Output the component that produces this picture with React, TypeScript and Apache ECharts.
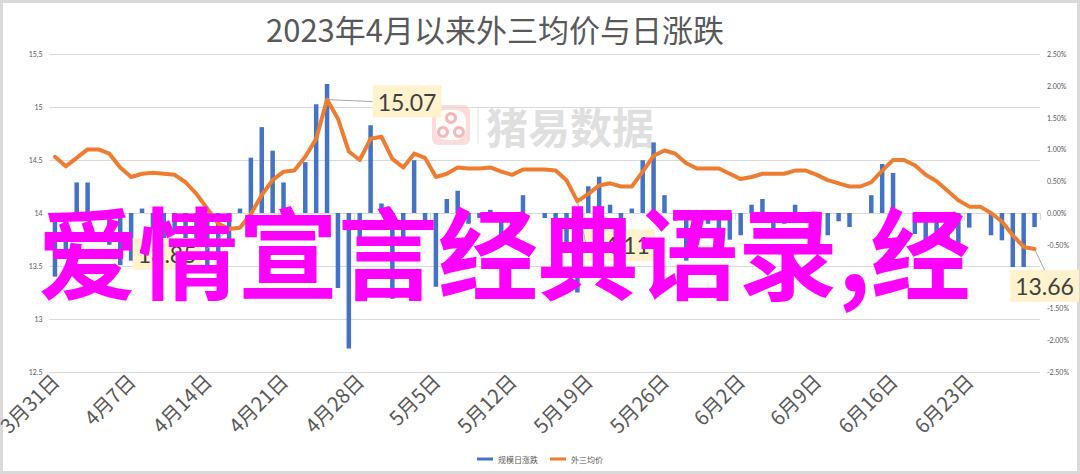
import React, { useEffect, useRef } from "react";
import * as echarts from "echarts";

// ---- data ----
const startDate = [2023, 3, 31];
const dayCount = 91;
const categories: string[] = (() => {
  const out: string[] = [];
  const d0 = new Date(startDate[0], startDate[1] - 1, startDate[2]);
  for (let i = 0; i < dayCount; i++) {
    const d = new Date(d0.getTime() + i * 86400000);
    out.push(`${d.getMonth() + 1}月${d.getDate()}日`);
  }
  return out;
})();

// 外三均价 (元/kg)
const priceValues = [
  14.53, 14.44, 14.52, 14.6, 14.6, 14.56, 14.43, 14.34, 14.37, 14.38,
  14.37, 14.36, 14.29, 14.18, 14.04, 13.9, 13.85, 13.86, 13.99, 14.17,
  14.31, 14.39, 14.4, 14.53, 14.7, 15.07, 14.89, 14.58, 14.5, 14.7,
  14.72, 14.51, 14.43, 14.56, 14.52, 14.34, 14.37, 14.43, 14.42, 14.42,
  14.43, 14.39, 14.36, 14.41, 14.41, 14.41, 14.4, 14.31, 14.11, 14.18,
  14.26, 14.28, 14.25, 14.25, 14.39, 14.54, 14.59, 14.56, 14.47, 14.42,
  14.42, 14.42, 14.37, 14.32, 14.34, 14.37, 14.37, 14.37, 14.4, 14.4,
  14.36, 14.31, 14.28, 14.25, 14.25, 14.29, 14.4, 14.5, 14.5, 14.45,
  14.36, 14.3, 14.21, 14.12, 14.06, 14.06, 14.0, 13.92, 13.79, 13.68,
  13.66,
];

// 规模日涨跌 (%)
const changeValues = [
  -1.0, -0.58, 0.48, 0.48, 0, -0.5, -0.82, -0.75, 0.07, -0.25,
  -0.5, -0.33, -0.67, -0.58, -0.93, -0.67, -0.5, 0.07, 0.87, 1.35,
  0.98, 0.48, 0, 0.8, 1.71, 2.03, -1.18, -2.13, -0.48, 1.38,
  0.15, -1.35, -0.5, 0.83, -0.17, -1.16, 0.22, 0.35, -0.17, -0.08,
  0.05, -0.43, -0.33, 0.28, 0, -0.08, -0.62, -0.58, -1.25, 0.42,
  0.57, 0.13, -0.17, 0.07, 0.83, 1.11, 0.28, -0.12, -0.75, -0.5,
  -0.17, -0.25, -0.42, -0.35, 0.13, 0.22, -0.33, -0.17, 0.13, -0.07,
  -0.33, -0.35, -0.13, -0.22, 0, 0.28, 0.77, 0.63, 0, -0.33,
  -0.5, -0.42, -0.55, -0.63, -0.23, 0, -0.35, -0.43, -0.85, -0.85,
  -0.22,
];

const leftTicks = { min: 12.5, max: 15.5, interval: 0.5 };
const rightTicks = { min: -2.5, max: 2.5, interval: 0.5 };

// indices of labelled price points and their callout offsets
const calloutIndex = [16, 25, 48, 90];
const calloutOffset: Record<number, [number, number]> = {
  16: [-62, 25],
  25: [80, 2],
  48: [43, 44],
  90: [10, 37],
};

const titleText = "2023年4月以来外三均价与日涨跌";
const seriesNames = ["规模日涨跌", "外三均价"];
const watermarkText = "猪易数据";
const overlayText = "爱情宣言经典语录,经";

const CJK = '"Noto Sans CJK SC", "Noto Sans", sans-serif';

export default function App() {
  const ref = useRef<HTMLDivElement>(null);
  useEffect(() => {
    document.body.style.margin = "0";
    const chart = echarts.init(ref.current!, null, { renderer: "svg" });
    const priceData = priceValues.map((v, i) =>
      calloutIndex.includes(i)
        ? {
            value: v,
            label: {
              show: true,
              position: "inside",
              formatter: (p: any) => Number(p.value).toFixed(2),
              fontSize: 23,
              color: "#404040",
              fontFamily: "Lato, sans-serif",
              backgroundColor: "#FFF2CC",
              padding: [5, 5, 4, 5],
            },
          }
        : v
    );
    chart.setOption({
      animation: false,
      backgroundColor: "#ffffff",
      textStyle: { fontFamily: CJK },
      title: {
        text: titleText,
        left: 261,
        top: 8,
        textStyle: { fontSize: 31, fontWeight: "normal", color: "#595959", fontFamily: CJK },
      },
      legend: {
        data: seriesNames,
        bottom: 6,
        left: "center",
        itemWidth: 16,
        itemHeight: 3,
        itemGap: 12,
        icon: "rect",
        textStyle: { fontSize: 8, color: "#595959", fontFamily: CJK },
      },
      grid: { left: 49.5, right: 40, top: 54, bottom: 102, containLabel: false, outerBoundsMode: "none" },
      xAxis: {
        type: "category",
        data: categories,
        boundaryGap: true,
        axisLine: { lineStyle: { color: "#D9D9D9", width: 1 } },
        axisTick: { show: true, interval: 6, length: 7, lineStyle: { color: "#D9D9D9" } },
        axisLabel: {
          interval: 6,
          rotate: 45,
          fontSize: 20,
          color: "#595959",
          margin: 5,
          fontFamily: CJK,
        },
        splitLine: { show: false },
      },
      yAxis: [
        {
          type: "value",
          ...leftTicks,
          axisLine: { show: false },
          axisTick: { show: false },
          axisLabel: { fontSize: 7, color: "#595959", margin: 7, fontFamily: "Lato, sans-serif" },
          splitLine: { lineStyle: { color: "#D9D9D9", width: 1 } },
        },
        {
          type: "value",
          ...rightTicks,
          position: "right",
          axisLine: { show: false },
          axisTick: { show: false },
          axisLabel: {
            fontSize: 7,
            color: "#595959",
            margin: 7,
            fontFamily: "Lato, sans-serif",
            formatter: (v: number) => v.toFixed(2) + "%",
          },
          splitLine: { show: false },
        },
      ],
      series: [
        {
          name: seriesNames[0],
          type: "bar",
          yAxisIndex: 1,
          data: changeValues,
          barWidth: 4.5,
          itemStyle: { color: "#4472C4" },
          z: 2,
        },
        {
          name: seriesNames[1],
          type: "line",
          yAxisIndex: 0,
          data: priceData,
          symbol: "circle",
          symbolSize: 1,
          showSymbol: true,
          itemStyle: { color: "#ED7D31" },
          lineStyle: { color: "#ED7D31", width: 4, cap: "round", join: "round" },
          label: { show: false },
          labelLine: { show: true, lineStyle: { color: "#A6A6A6", width: 1 } },
          labelLayout: (p: any) => {
            const o = calloutOffset[p.dataIndex];
            return o ? { dx: o[0], dy: o[1] } : {};
          },
          z: 3,
        },
      ],
      graphic: [
        {
          type: "rect",
          shape: { x: 1.5, y: 1.5, width: 1077, height: 471 },
          style: { fill: "none", stroke: "#D9D9D9", lineWidth: 3 },
          silent: true,
          z: 0,
        },
        {
          type: "group",
          z: 1,
          silent: true,
          children: [
            { type: "rect", shape: { x: 432, y: 105, width: 38, height: 40, r: 6 }, style: { fill: "#F9D3D3", opacity: 0.8 } },
            { type: "rect", shape: { x: 436, y: 110, width: 30, height: 30, r: 10 }, style: { fill: "#FFFFFF", opacity: 0.9 } },
            { type: "ring", shape: { cx: 451, cy: 118, r: 6, r0: 3 }, style: { fill: "#F4B8B8" } },
            { type: "ring", shape: { cx: 443, cy: 132, r: 6, r0: 3 }, style: { fill: "#F4B8B8" } },
            { type: "ring", shape: { cx: 459, cy: 132, r: 6, r0: 3 }, style: { fill: "#F4B8B8" } },
            { type: "line", shape: { x1: 478, y1: 106, x2: 478, y2: 144 }, style: { stroke: "#E3E3E3", lineWidth: 1 } },
            {
              type: "text",
              x: 486,
              y: 125,
              style: {
                text: watermarkText,
                fontSize: 42,
                fontWeight: "bold",
                fontFamily: CJK,
                fill: "#DADADA",
                textVerticalAlign: "middle",
                opacity: 0.85,
              },
            },
          ],
        },
        {
          type: "text",
          x: 38,
          y: 248,
          z: 100,
          silent: true,
          style: {
            text: overlayText,
            fontSize: 100,
            fontWeight: "bold",
            fontFamily: CJK,
            fill: "#FF00FF",
            textVerticalAlign: "middle",
          },
        },
      ],
    });
    return () => chart.dispose();
  }, []);
  return (
    <div
      ref={ref}
      style={{ position: "absolute", left: 0, top: 0, width: 1080, height: 474 }}
    />
  );
}
